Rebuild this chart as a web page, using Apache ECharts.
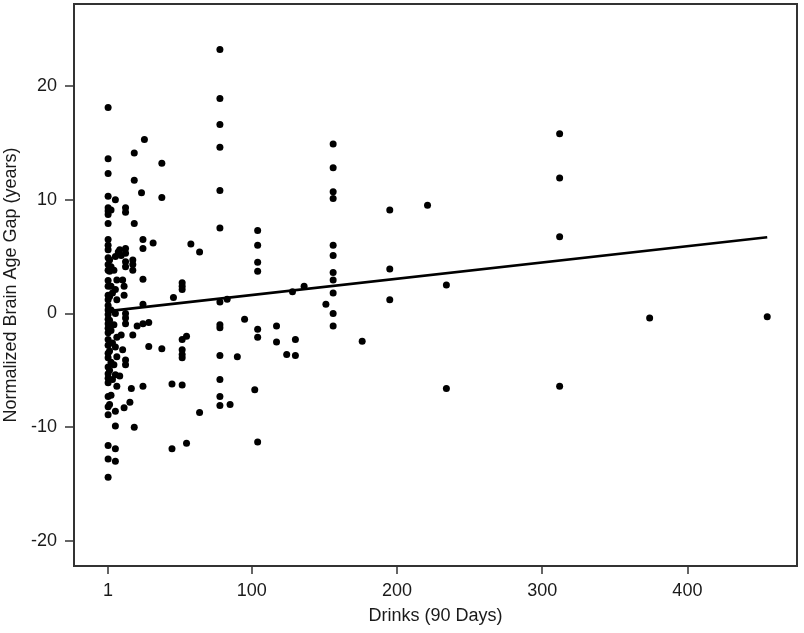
<!DOCTYPE html>
<html>
<head>
<meta charset="utf-8">
<script src="https://cdn.jsdelivr.net/npm/echarts@6/dist/echarts.min.js"></script>
<style>
html,body{margin:0;padding:0;background:#fff;}
#chart{width:804px;height:633px;}
</style>
</head>
<body>
<div id="chart"></div>
<script>
// Data
const drinks = [
  1,1,1,1,1,1,1,1,1,1,1,1,1,1,1,1,1,1,1,1,1,1,1,1,1,1,1,1,1,1,1,1,1,1,1,1,1,1,1,
  3,2,3,2,3,4,2,3,2,3,4,2,3,2,4,3,2,
  6,6,5,7,6,7,6,5,7,6,7,5,6,7,6,6,6,6,8,
  9,10,13,13,13,13,13,13,11,12,12,13,13,13,10,11,13,13,12,9,
  19,19,19,18,18,18,21,18,17,16,19,
  26,24,25,25,25,25,25,29,29,25,32,
  38,38,38,46,45,45,
  52,52,52,52,55,52,52,52,52,55,
  58,64,64,
  78,78,78,78,78,78,78,83,78,78,78,78,78,78,85,90,95,
  104,104,104,104,104,104,102,104,
  117,117,124,130,130,128,136,
  156,156,156,156,156,156,156,156,156,151,156,156,
  176,195,195,195,221,234,234,312,312,312,312,374,455
];
const brainAgeGap = [
  18.1,13.6,12.3,10.3,9.3,9.0,8.7,7.9,6.5,6.0,5.6,4.9,4.3,3.8,2.9,2.4,1.6,1.2,0.7,0.3,-0.1,-0.5,-0.9,-1.3,-1.7,-2.3,-2.8,-3.5,-3.9,-4.7,-5.3,-5.7,-6.1,-7.3,-8.2,-8.9,-11.6,-12.8,-14.4,
  9.1,4.7,4.1,3.7,2.4,1.8,1.5,0.3,-0.6,-1.5,-2.6,-3.3,-4.3,-5.0,-5.8,-7.2,-8.0,
  10.0,5.0,3.8,2.95,2.1,1.2,0.0,-1.0,-2.1,-2.95,-3.8,-4.5,-5.4,-6.4,-8.6,-9.9,-11.9,-13.0,5.4,
  5.6,5.1,9.3,8.9,5.7,5.3,4.55,4.1,2.95,2.4,1.6,0.0,-0.4,-0.9,-1.9,-3.2,-4.1,-4.5,-8.3,-5.5,
  14.1,11.7,7.9,4.7,4.3,3.8,-1.1,-1.9,-6.6,-7.8,-10.0,
  15.3,10.6,6.5,5.7,3.0,0.8,-0.9,-0.8,-2.9,-6.4,6.2,
  13.2,10.2,-3.1,1.4,-6.2,-11.9,
  2.7,2.4,2.1,-2.3,-2.0,-3.2,-3.6,-3.9,-6.3,-11.4,
  6.1,5.4,-8.7,
  23.2,18.9,16.6,14.6,10.8,7.5,1.0,1.25,-1.0,-1.25,-3.7,-5.8,-7.3,-8.1,-8.0,-3.8,-0.5,
  7.3,6.0,4.5,3.7,-1.4,-2.1,-6.7,-11.3,
  -1.1,-2.5,-3.6,-3.7,-2.3,1.9,2.4,
  14.9,12.8,10.7,10.1,6.0,5.1,3.6,2.95,1.8,0.8,0.0,-1.1,
  -2.45,9.1,3.9,1.2,9.5,2.5,-6.6,15.8,11.9,6.75,-6.4,-0.4,-0.3
];
// Fitted line end points
const fitX = [1, 455];
const fitY = [0.2, 6.7];
// Tick labels
const xTicks = [1, 100, 200, 300, 400];
const yTicks = [-20, -10, 0, 10, 20];

const points = drinks.map((d, i) => [d, brainAgeGap[i]]);
const fitLine = fitX.map((d, i) => [d, fitY[i]]);

const FONT = 'Liberation Sans, Arial, Helvetica, sans-serif';
const TXT = '#1a1a1a';
const chart = echarts.init(document.getElementById('chart'), null, {renderer: 'canvas'});
chart.setOption({
  animation: false,
  backgroundColor: '#ffffff',
  grid: {
    left: 74, top: 4, right: 7, bottom: 67,
    containLabel: false, outerBoundsMode: 'none',
    show: true, borderColor: '#333', borderWidth: 2, backgroundColor: 'transparent'
  },
  xAxis: {
    type: 'value', min: -22.5, max: 475.5,
    name: 'Drinks (90 Days)', nameLocation: 'middle', nameGap: 41,
    nameTextStyle: {fontFamily: FONT, fontSize: 18, color: TXT},
    axisLine: {show: false, onZero: false},
    splitLine: {show: false},
    axisTick: {show: true, inside: false, length: 8, customValues: xTicks, lineStyle: {color: '#333', width: 1.5}},
    axisLabel: {customValues: xTicks, margin: 16, fontFamily: FONT, fontSize: 18, color: TXT}
  },
  yAxis: {
    type: 'value', min: -22.2, max: 27.2,
    name: 'Normalized Brain Age Gap (years)', nameLocation: 'middle', nameGap: 50,
    nameTextStyle: {fontFamily: FONT, fontSize: 18, color: TXT},
    axisLine: {show: false, onZero: false},
    splitLine: {show: false},
    axisTick: {show: true, inside: false, length: 9, customValues: yTicks, lineStyle: {color: '#333', width: 1.5}},
    axisLabel: {customValues: yTicks, margin: 17, fontFamily: FONT, fontSize: 18, color: TXT}
  },
  series: [
    {
      type: 'scatter', data: points, symbol: 'circle', symbolSize: 7,
      itemStyle: {color: '#000', opacity: 1}, z: 3
    },
    {
      type: 'line', data: fitLine, symbol: 'none', z: 4,
      lineStyle: {color: '#000', width: 2.6}
    }
  ]
});
</script>
</body>
</html>
